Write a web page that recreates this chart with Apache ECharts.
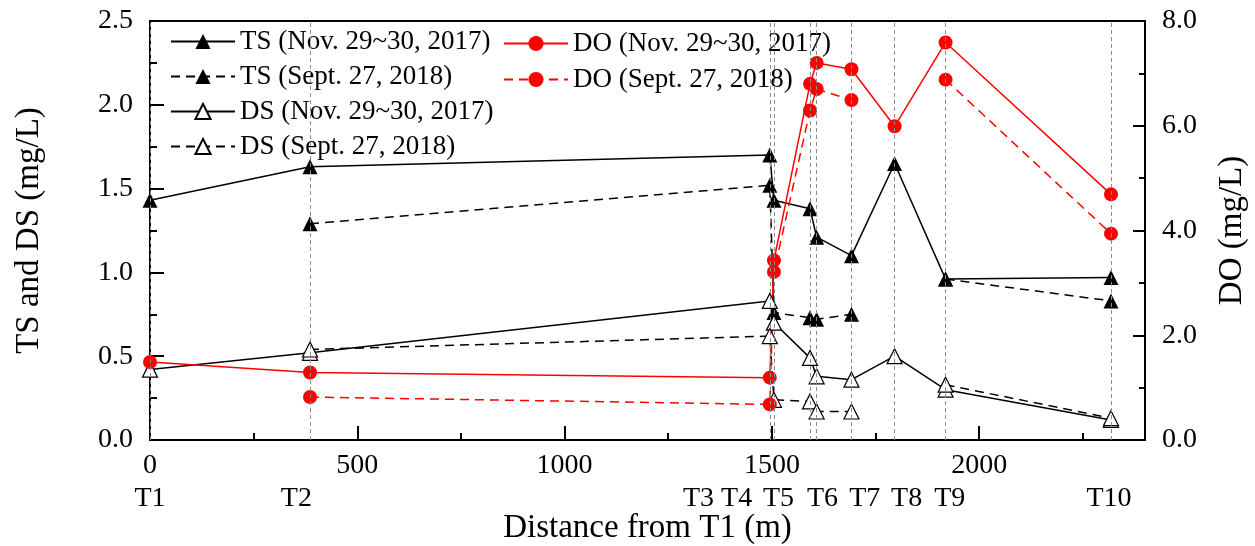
<!DOCTYPE html>
<html>
<head>
<meta charset="utf-8">
<script src="https://cdn.jsdelivr.net/npm/echarts@6/dist/echarts.min.js"></script>
<style>
  html, body { margin: 0; padding: 0; background: #fff; }
  #chart { width: 1255px; height: 546px; }
</style>
</head>
<body>
<div id="chart"></div>
<script>
// Sampling stations along the channel (distance from T1, m)
const stationNames = ['T1', 'T2', 'T3', 'T4', 'T5', 'T6', 'T7', 'T8', 'T9', 'T10'];
const stationDist = [0, 386, 1495, 1505, 1592, 1608, 1692, 1796, 1919, 2318];
// Where the station captions sit in the second label row (m)
const stationLabelPos = [0, 353, 1323, 1415, 1516, 1622, 1724, 1825, 1929, 2313];

// Total solids / dissolved solids (mg/L), left axis
const tsNov2017 = [1.43, 1.63, 1.70, 1.43, 1.38, 1.21, 1.10, 1.65, 0.96, 0.97];
const tsSep2018 = [null, 1.29, 1.52, 0.76, 0.73, 0.72, 0.75, null, 0.96, 0.83];
const dsNov2017 = [0.42, 0.52, 0.83, 0.70, 0.49, 0.38, 0.36, 0.50, 0.30, 0.12];
const dsSep2018 = [null, 0.54, 0.62, 0.24, 0.23, 0.17, 0.17, null, 0.33, 0.13];
// Dissolved oxygen (mg/L), right axis
const doNov2017 = [1.49, 1.29, 1.19, 3.43, 6.80, 7.20, 7.08, 5.99, 7.59, 4.69];
const doSep2018 = [null, 0.82, 0.68, 3.21, 6.29, 6.70, 6.49, null, 6.88, 3.94];

const FONT = "'Liberation Serif', 'Times New Roman', serif";
const RED = '#ff0000';

function pairs(values) {
  return stationDist.map((x, i) => [x, values[i] == null ? '-' : values[i]]);
}

const solid = { type: 'solid', width: 1.5 };
const dashed = { type: [9, 6], width: 1.5 };

function series(name, values, yIndex, lineType, color, symbol, size, filled) {
  return {
    name: name,
    type: 'line',
    xAxisIndex: 0,
    yAxisIndex: yIndex,
    data: pairs(values),
    connectNulls: false,
    symbol: symbol,
    symbolSize: size,
    showAllSymbol: true,
    lineStyle: Object.assign({ color: color }, lineType),
    itemStyle: filled
      ? { color: color, borderWidth: 0 }
      : { color: '#fff', borderColor: color, borderWidth: 1.2 },
    emphasis: { disabled: true }
  };
}

const names = [
  'TS (Nov. 29~30, 2017)',
  'TS (Sept. 27, 2018)',
  'DS (Nov. 29~30, 2017)',
  'DS (Sept. 27, 2018)',
  'DO (Nov. 29~30, 2017)',
  'DO (Sept. 27, 2018)'
];

const labelOf = {};
stationLabelPos.forEach((p, i) => { labelOf[p] = stationNames[i]; });

const axisLineStyle = { color: '#000', width: 2 };
const tickText = { fontFamily: FONT, fontSize: 28, color: '#000' };
const legendText = { fontFamily: FONT, fontSize: 27, color: '#000', lineHeight: 26 };

const chart = echarts.init(document.getElementById('chart'));
chart.setOption({
  animation: false,
  backgroundColor: '#fff',
  grid: {
    left: 150, right: 110, top: 21, bottom: 106,
    outerBoundsMode: 'none', containLabel: false,
    show: true, borderColor: '#000', borderWidth: 2, backgroundColor: 'transparent'
  },
  legend: [
    {
      data: names.slice(0, 4),
      orient: 'vertical', left: 170, top: 28, padding: 0,
      itemWidth: 64, itemHeight: 19, itemGap: 8,
      textStyle: legendText, selectedMode: false
    },
    {
      data: names.slice(4),
      orient: 'vertical', left: 503, top: 30, padding: 0,
      itemWidth: 64, itemHeight: 19, itemGap: 9,
      textStyle: legendText, selectedMode: false
    }
  ],
  xAxis: [
    {
      type: 'value', min: 0, max: 2400, interval: 500, position: 'bottom',
      axisLine: { show: true, onZero: false, lineStyle: axisLineStyle },
      axisTick: { show: true, inside: true, length: 14, lineStyle: axisLineStyle },
      axisLabel: Object.assign({
        margin: 12, showMaxLabel: false,
        formatter: v => (v % 500 === 0 ? String(v) : '')
      }, tickText),
      splitLine: { show: false },
      name: 'Distance from T1 (m)', nameLocation: 'middle', nameGap: 72,
      nameTextStyle: { fontFamily: FONT, fontSize: 33, color: '#000' }
    },
    {
      // Station captions row
      type: 'value', min: 0, max: 2400, position: 'bottom', offset: 33,
      axisLine: { show: false },
      axisTick: { show: false },
      axisLabel: Object.assign({
        customValues: stationLabelPos, margin: 12,
        formatter: v => labelOf[v] || ''
      }, tickText),
      splitLine: { show: false }
    },
    {
      // Short ticks every 250 m (the long ones come from the first axis)
      type: 'value', min: 0, max: 2400, interval: 250, position: 'bottom', offset: 0,
      axisLine: { show: false },
      axisTick: { show: true, inside: true, length: 7, lineStyle: axisLineStyle },
      axisLabel: { show: false },
      splitLine: { show: false }
    }
  ],
  yAxis: [
    {
      type: 'value', min: 0, max: 2.5, interval: 0.5, position: 'left',
      axisLine: { show: true, onZero: false, lineStyle: axisLineStyle },
      axisTick: { show: true, inside: true, length: 14, lineStyle: axisLineStyle },
      minorTick: { show: true, splitNumber: 2, length: 7, lineStyle: axisLineStyle },
      axisLabel: Object.assign({ margin: 17, formatter: v => v.toFixed(1) }, tickText),
      splitLine: { show: false },
      minorSplitLine: { show: false },
      name: 'TS and DS (mg/L)', nameLocation: 'middle', nameGap: 104, nameRotate: 90,
      nameTextStyle: { fontFamily: FONT, fontSize: 33, color: '#000' }
    },
    {
      type: 'value', min: 0, max: 8, interval: 2, position: 'right',
      axisLine: { show: true, onZero: false, lineStyle: axisLineStyle },
      axisTick: { show: true, inside: true, length: 12, lineStyle: axisLineStyle },
      minorTick: { show: true, splitNumber: 2, length: 6, lineStyle: axisLineStyle },
      axisLabel: Object.assign({ margin: 17, formatter: v => v.toFixed(1) }, tickText),
      splitLine: { show: false },
      minorSplitLine: { show: false },
      name: 'DO (mg/L)', nameLocation: 'middle', nameGap: 71, nameRotate: 90,
      nameTextStyle: { fontFamily: FONT, fontSize: 33, color: '#000' }
    }
  ],
  series: [
    {
      // Vertical guide lines at every station
      name: 'stations', type: 'line', data: [], xAxisIndex: 0, yAxisIndex: 0, z: 1,
      markLine: {
        silent: true, symbol: ['none', 'none'], animation: false,
        label: { show: false },
        lineStyle: { color: '#8c8c8c', width: 1, type: [4, 3] },
        emphasis: { disabled: true },
        data: stationDist.map(x => ({ xAxis: x }))
      }
    },
    series(names[0], tsNov2017, 0, solid, '#000', 'triangle', 15, true),
    series(names[1], tsSep2018, 0, dashed, '#000', 'triangle', 15, true),
    series(names[2], dsNov2017, 0, solid, '#000', 'triangle', 15, false),
    series(names[3], dsSep2018, 0, dashed, '#000', 'triangle', 15, false),
    series(names[4], doNov2017, 1, solid, RED, 'circle', 14, true),
    series(names[5], doSep2018, 1, dashed, RED, 'circle', 14, true)
  ]
});
</script>
</body>
</html>
